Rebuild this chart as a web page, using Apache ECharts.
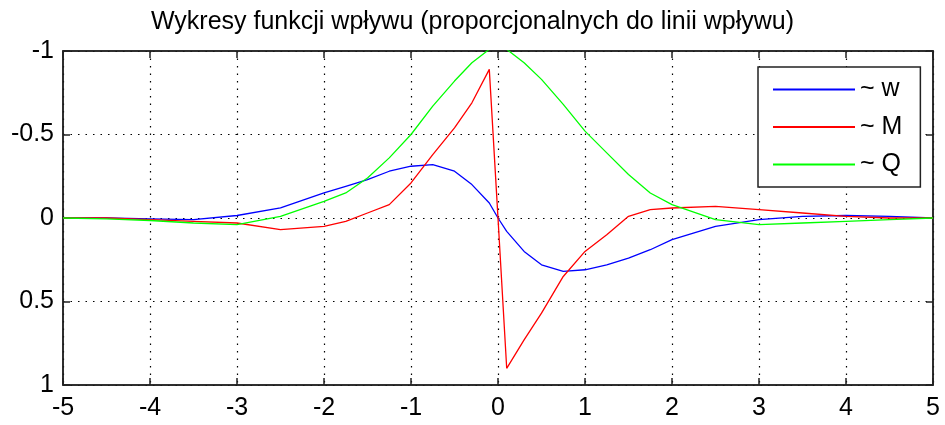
<!DOCTYPE html>
<html>
<head>
<meta charset="utf-8">
<script src="https://cdn.jsdelivr.net/npm/echarts@6/dist/echarts.min.js"></script>
<style>
  html, body { margin: 0; padding: 0; background: #fff; }
  #chart { width: 945px; height: 425px; }
</style>
</head>
<body>
<div id="chart"></div>
<script>
  // argumenty (os x)
  var xs = [-5, -4.5, -4, -3.5, -3, -2.5, -2, -1.75, -1.5, -1.25, -1, -0.75, -0.5, -0.3, -0.1, 0,
            0.1, 0.3, 0.5, 0.75, 1, 1.25, 1.5, 1.75, 2, 2.5, 3, 3.5, 4, 4.5, 5];
  // ~ w
  var wVals = [0, 0, 0.005, 0.01, -0.015, -0.06, -0.15, -0.19, -0.23, -0.28, -0.31, -0.32, -0.28, -0.2, -0.09, 0,
               0.08, 0.2, 0.28, 0.32, 0.31, 0.28, 0.24, 0.19, 0.13, 0.05, 0.01, -0.01, -0.015, -0.01, 0];
  // ~ M
  var mVals = [0, 0, 0.01, 0.02, 0.03, 0.07, 0.05, 0.02, -0.03, -0.08, -0.21, -0.38, -0.54, -0.69, -0.89, 0,
               0.9, 0.73, 0.57, 0.35, 0.2, 0.1, -0.01, -0.05, -0.06, -0.07, -0.05, -0.03, -0.01, 0, 0];
  // ~ Q
  var qVals = [0, 0.005, 0.015, 0.03, 0.04, -0.01, -0.1, -0.15, -0.24, -0.36, -0.5, -0.67, -0.82, -0.93, -1.01, -1.04,
               -1.01, -0.93, -0.83, -0.68, -0.52, -0.39, -0.26, -0.15, -0.08, 0.01, 0.04, 0.03, 0.02, 0.01, 0];
  var names = ['~ w', '~ M', '~ Q'];
  var colors = ['#0000ff', '#ff0000', '#00ff00'];

  function pairs(vals) {
    var out = [];
    for (var i = 0; i < xs.length; i++) out.push([xs[i], vals[i]]);
    return out;
  }

  var font = '"Liberation Sans", Arial, sans-serif';
  var frame = { color: '#222', width: 1.5 };
  var dots = { color: '#000', width: 1.2, type: [1.5, 6] };

  var myChart = echarts.init(document.getElementById('chart'));
  var allSeries = [wVals, mVals, qVals].map(function (v, i) {
    return {
      name: names[i],
      type: 'line',
      data: pairs(v),
      showSymbol: false,
      symbol: 'none',
      clip: true,
      lineStyle: { color: colors[i], width: 1.3 },
      itemStyle: { color: colors[i] },
      z: 3
    };
  });

  function axisBase(pos, labels) {
    return {
      type: 'value',
      position: pos,
      axisLine: { onZero: false, lineStyle: frame },
      axisTick: { inside: true, length: 7, lineStyle: frame },
      axisLabel: labels
        ? { margin: pos === 'bottom' ? 11 : 9, fontFamily: font, fontSize: 25, color: '#000' }
        : { show: false },
      splitLine: { show: labels, lineStyle: dots }
    };
  }

  var xBottom = Object.assign(axisBase('bottom', true), { min: -5, max: 5, interval: 1 });
  var xTop = Object.assign(axisBase('top', false), { min: -5, max: 5, interval: 1 });
  var yLeft = Object.assign(axisBase('left', true), { inverse: true, min: -1, max: 1, interval: 0.5 });
  var yRight = Object.assign(axisBase('right', false), { inverse: true, min: -1, max: 1, interval: 0.5 });

  myChart.setOption({
    animation: false,
    title: {
      text: 'Wykresy funkcji wpływu (proporcjonalnych do linii wpływu)',
      left: 'center',
      top: 5,
      textStyle: { fontFamily: font, fontWeight: 'normal', fontSize: 25, color: '#000' }
    },
    legend: {
      orient: 'vertical',
      left: 758,
      top: 67,
      padding: [10, 18, 10, 15],
      itemWidth: 82,
      itemHeight: 2,
      itemGap: 12.5,
      icon: 'rect',
      backgroundColor: '#fff',
      borderColor: '#222',
      borderWidth: 1.5,
      borderRadius: 0,
      textStyle: { fontFamily: font, fontSize: 25, color: '#000' },
      data: names
    },
    grid: {
      left: 63,
      right: 12,
      top: 51,
      bottom: 40,
      show: true,
      borderColor: '#222',
      borderWidth: 1.5,
      backgroundColor: '#fff'
    },
    xAxis: [xBottom, xTop],
    yAxis: [yLeft, yRight],
    series: allSeries
  });
</script>
</body>
</html>
